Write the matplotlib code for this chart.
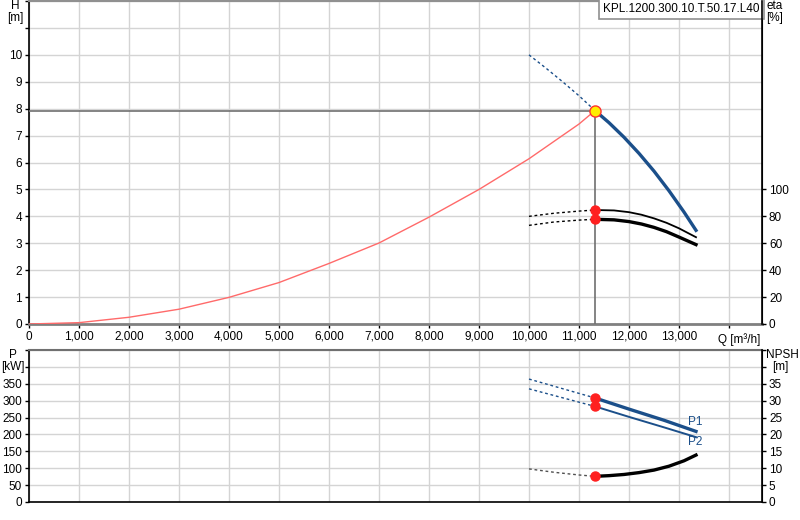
import matplotlib.pyplot as plt
import numpy as np

plt.rcParams['font.family'] = ['Liberation Sans', 'DejaVu Sans']

# pump curve H(Q)
q_head_dash = [10000, 10330, 10660, 11000, 11320]
h_head_dash = [10.0, 9.52, 9.02, 8.48, 7.93]
q_head = [11320, 11600, 11900, 12200, 12500, 12800, 13100, 13340]
h_head = [7.93, 7.48, 6.94, 6.34, 5.68, 4.95, 4.16, 3.48]

# system curve
q_sys = [0, 1000, 2000, 3000, 4000, 5000, 6000, 7000, 8000, 9000, 10000, 11000, 11320]
h_sys = [0.0, 0.05, 0.25, 0.55, 0.99, 1.54, 2.25, 3.01, 3.97, 5.0, 6.14, 7.43, 7.93]

# efficiency (eta, %)
q_eta_dash = [10000, 10500, 11000, 11320]
eta1_dash = [80.0, 82.3, 83.9, 84.7]
eta2_dash = [73.3, 75.8, 77.2, 77.8]
q_eta = [11320, 11700, 12000, 12250, 12500, 12750, 13000, 13340]
eta1 = [84.7, 84.4, 83.1, 81.2, 78.5, 75.2, 71.1, 64.5]
eta2 = [77.8, 77.4, 76.1, 74.3, 71.8, 68.6, 64.6, 59.0]

# power
q_p_dash = [10000, 11320]
p1_dash = [364, 308]
p2_dash = [335, 283]
q_p = [11320, 12000, 12700, 13340]
p1 = [308, 275, 242, 209]
p2 = [283, 252, 221, 192]

# NPSH
q_npsh_dash = [10000, 10500, 11000, 11320]
npsh_dash = [9.8, 8.8, 8.0, 7.6]
q_npsh = [11320, 11600, 11900, 12200, 12500, 12800, 13100, 13340]
npsh = [7.6, 7.8, 8.15, 8.7, 9.45, 10.6, 12.2, 13.9]

q_op = 11320
h_op = 7.93
pump_name = "KPL.1200.300.10.T.50.17.L40"

blue = "#1b4f8a"
grid_c = "#d4d4d4"
fs = 8.5

fig = plt.figure(figsize=(8, 5.2), dpi=100)
left, width = 29 / 800, (762 - 29) / 800
xmax = 14660

ax = fig.add_axes([left, 1 - 324 / 520, width, 324 / 520 - 0.002])
ax2 = ax.twinx()
axb = fig.add_axes([left, 1 - 502 / 520, width, (502 - 350) / 520])
axb2 = axb.twinx()

for a in (ax, axb):
    a.set_xlim(0, xmax)
    a.set_xticks(np.arange(0, 15000, 1000))
    a.grid(True, color=grid_c, lw=1)
    a.set_axisbelow(True)
    a.tick_params(labelsize=fs, length=3, width=1, pad=2)
    a.spines["left"].set_linewidth(1.2)
    a.spines["top"].set_color("#909090")
    a.spines["top"].set_linewidth(1.5)
    a.spines["bottom"].set_color("#808080")
    a.spines["bottom"].set_linewidth(2)
for a in (ax2, axb2):
    a.tick_params(labelsize=fs, length=3, width=1, pad=2)
    a.spines["right"].set_linewidth(1.2)
    for s in ("top", "bottom", "left"):
        a.spines[s].set_visible(False)

# --- top chart ---
ax.set_ylim(0, 12)
ax.set_yticks(np.arange(0, 13, 1))
ax.set_yticklabels([str(v) if v <= 10 else "" for v in range(13)])
xl = ["{:,}".format(v) for v in range(0, 14000, 1000)] + [""]
ax.set_xticklabels(xl)
ax.text(14200, -0.35, "Q [m\u00b3/h]", fontsize=fs, ha="center", va="top")

ax.plot([0, q_op], [h_op, h_op], color="#707070", lw=1.2, zorder=3)
ax.plot([q_op, q_op], [0, h_op], color="#707070", lw=1.2, zorder=3)
ax.plot(q_sys, h_sys, color="#ff6a6a", lw=1, zorder=4)
ax.plot(q_head_dash, h_head_dash, color=blue, lw=1, ls=(0, (2, 2)), zorder=4)
ax.plot(q_head, h_head, color=blue, lw=2.4, zorder=5)
ax.plot([q_op], [h_op], "o", ms=8, mfc="#ffee00", mec="#ff3030", mew=1, zorder=7)

ax2.set_ylim(0, 240)
ax2.set_yticks(np.arange(0, 101, 20))
ax2.plot(q_eta_dash, eta1_dash, color="black", lw=1, ls=(0, (2, 2)), zorder=4)
ax2.plot(q_eta_dash, eta2_dash, color="black", lw=1, ls=(0, (2, 2)), zorder=4)
ax2.plot(q_eta, eta1, color="black", lw=1.3, zorder=5)
ax2.plot(q_eta, eta2, color="black", lw=2.4, zorder=5)
ax2.plot([q_op, q_op], [eta1[0], eta2[0]], "o", ms=6.5, color="#ff2020", zorder=6)

fig.text(15 / 800, 1 - 6 / 520, "H", fontsize=fs, ha="center", va="center")
fig.text(15 / 800, 1 - 18 / 520, "[m]", fontsize=fs, ha="center", va="center")
fig.text(775 / 800, 1 - 6 / 520, "eta", fontsize=fs, ha="center", va="center")
fig.text(775 / 800, 1 - 18 / 520, "[%]", fontsize=fs, ha="center", va="center")

ax.text(0.997, 0.995, pump_name, transform=ax.transAxes, fontsize=fs,
        ha="right", va="top", zorder=10,
        bbox=dict(boxstyle="square,pad=0.35", fc="white", ec="#909090", lw=1.2))

# --- bottom chart ---
axb.set_ylim(0, 450)
axb.set_yticks(np.arange(0, 451, 50))
axb.set_yticklabels([str(v) if v <= 350 else "" for v in range(0, 451, 50)])
axb.set_xticklabels([])
axb.tick_params(axis="x", length=0)
axb.spines["bottom"].set_color("black")
axb.spines["bottom"].set_linewidth(1.2)
axb.spines["top"].set_color("#707070")

axb.plot(q_p_dash, p1_dash, color=blue, lw=1, ls=(0, (2, 2)), zorder=4)
axb.plot(q_p_dash, p2_dash, color=blue, lw=1, ls=(0, (2, 2)), zorder=4)
axb.plot(q_p, p1, color=blue, lw=2.4, zorder=5)
axb.plot(q_p, p2, color=blue, lw=1.4, zorder=5)
axb.plot([q_op, q_op], [p1[0], p2[0]], "o", ms=6.5, color="#ff2020", zorder=6)
axb.text(13320, 238, "P1", color=blue, fontsize=fs, ha="center", va="center")
axb.text(13320, 178, "P2", color=blue, fontsize=fs, ha="center", va="center")

axb2.set_ylim(0, 45)
axb2.set_yticks(np.arange(0, 46, 5))
axb2.set_yticklabels([str(v) if v <= 35 else "" for v in range(0, 46, 5)])
axb2.plot(q_npsh_dash, npsh_dash, color="#505050", lw=1, ls=(0, (2, 2)), zorder=4)
axb2.plot(q_npsh, npsh, color="black", lw=2.4, zorder=5)
axb2.plot([q_op], [npsh[0]], "o", ms=6.5, color="#ff2020", zorder=6)

fig.text(13 / 800, 1 - 355 / 520, "P", fontsize=fs, ha="center", va="center")
fig.text(13 / 800, 1 - 367 / 520, "[kW]", fontsize=fs, ha="center", va="center")
fig.text(782 / 800, 1 - 355 / 520, "NPSH", fontsize=fs, ha="center", va="center")
fig.text(780 / 800, 1 - 367 / 520, "[m]", fontsize=fs, ha="center", va="center")

fig.savefig("out.png", dpi=100, facecolor="white")
